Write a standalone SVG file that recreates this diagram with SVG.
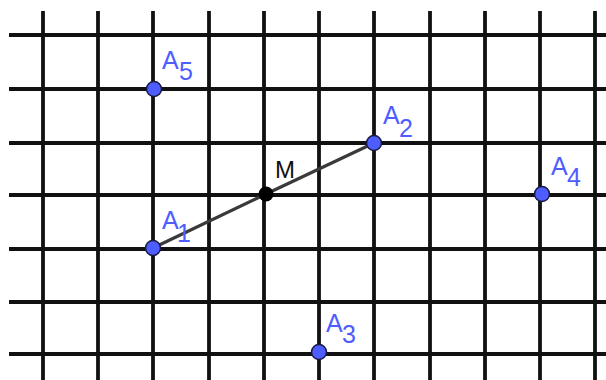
<svg xmlns="http://www.w3.org/2000/svg" width="606" height="380" viewBox="0 0 606 380">
<style>
.grid line{stroke:#111;stroke-width:3.8}
.pt{fill:#4d5dff;stroke:#1a1a40;stroke-width:1.5}
.mid{fill:#000}
.lbl{font-family:"Liberation Sans",Arial,sans-serif;font-size:25px;fill:#4d5dff}
.lblm{font-family:"Liberation Sans",Arial,sans-serif;font-size:24px;fill:#111}
.seg{stroke:#3a3a3a;stroke-width:3.2;stroke-linecap:round}
</style>
<rect width="606" height="380" fill="#fff"/>
<g class="grid" id="grid">
<line x1="43" y1="11" x2="43" y2="380"/>
<line x1="98" y1="11" x2="98" y2="380"/>
<line x1="153" y1="11" x2="153" y2="380"/>
<line x1="209" y1="11" x2="209" y2="380"/>
<line x1="264" y1="11" x2="264" y2="380"/>
<line x1="319" y1="11" x2="319" y2="380"/>
<line x1="374" y1="11" x2="374" y2="380"/>
<line x1="430" y1="11" x2="430" y2="380"/>
<line x1="485" y1="11" x2="485" y2="380"/>
<line x1="540" y1="11" x2="540" y2="380"/>
<line x1="595" y1="11" x2="595" y2="380"/>
<line x1="9" y1="35" x2="606" y2="35"/>
<line x1="9" y1="89" x2="606" y2="89"/>
<line x1="9" y1="143" x2="606" y2="143"/>
<line x1="9" y1="195" x2="606" y2="195"/>
<line x1="9" y1="249" x2="606" y2="249"/>
<line x1="9" y1="302" x2="606" y2="302"/>
<line x1="9" y1="354" x2="606" y2="354"/>
</g>
<g id="connectors">
<line class="seg" x1="153" y1="248" x2="266" y2="194"/>
<line class="seg" x1="266" y1="194" x2="374" y2="143"/>
</g>
<g id="A5"><circle class="pt" cx="154" cy="89" r="7.5"/><text class="lbl" x="162" y="69">A</text><text class="lbl" x="179" y="80">5</text></g>
<g id="A2"><circle class="pt" cx="374" cy="143" r="7.5"/><text class="lbl" x="383" y="124">A</text><text class="lbl" x="399" y="137">2</text></g>
<g id="M"><circle class="mid" cx="266" cy="194" r="7.5"/><text class="lblm" x="275" y="178">M</text></g>
<g id="A4"><circle class="pt" cx="542" cy="194" r="7.5"/><text class="lbl" x="551" y="175">A</text><text class="lbl" x="567" y="186">4</text></g>
<g id="A1"><circle class="pt" cx="153" cy="248" r="7.5"/><text class="lbl" x="162" y="229">A</text><text class="lbl" x="177" y="242">1</text></g>
<g id="A3"><circle class="pt" cx="319" cy="352" r="7.5"/><text class="lbl" x="326" y="332">A</text><text class="lbl" x="342" y="343">3</text></g>
</svg>
